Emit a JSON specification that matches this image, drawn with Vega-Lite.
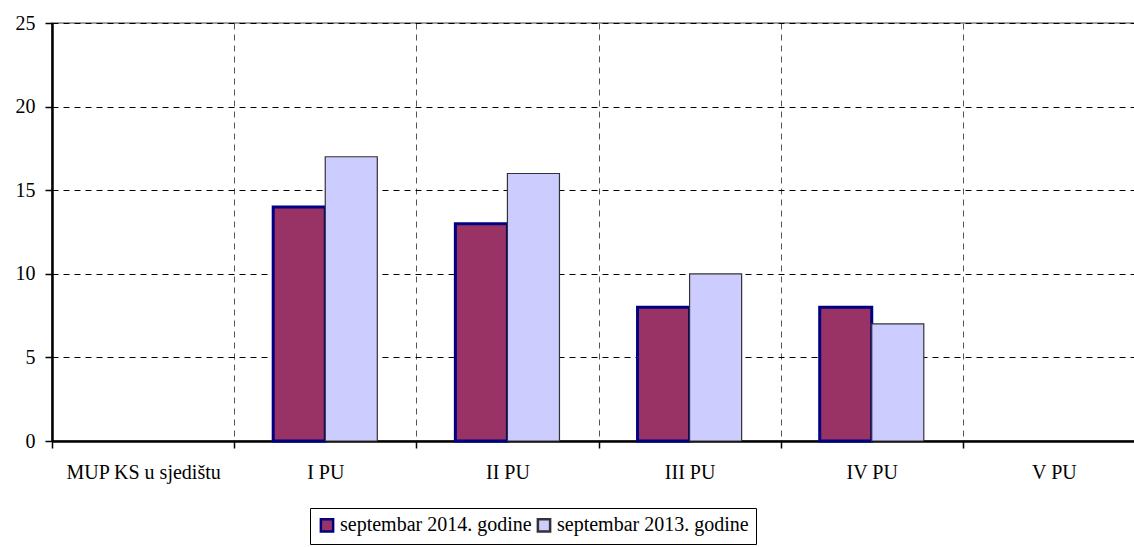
{
  "$schema": "https://vega.github.io/schema/vega-lite/v6.json",
  "width": 1093,
  "height": 418,
  "autosize": "none",
  "padding": {"left": 52, "top": 23, "right": 0, "bottom": 106},
  "background": "white",
  "config": {
    "font": "Liberation Serif",
    "view": {"stroke": "#808080", "strokeWidth": 1.5},
    "axis": {"labelFont": "Liberation Serif", "labelFontSize": 20, "labelColor": "black", "title": null, "labelLimit": 0}
  },
  "data": {
    "values": [
      {"unit": "MUP KS u sjedištu", "series": "septembar 2014. godine", "value": 0},
      {"unit": "MUP KS u sjedištu", "series": "septembar 2013. godine", "value": 0},
      {"unit": "I PU", "series": "septembar 2014. godine", "value": 14},
      {"unit": "I PU", "series": "septembar 2013. godine", "value": 17},
      {"unit": "II PU", "series": "septembar 2014. godine", "value": 13},
      {"unit": "II PU", "series": "septembar 2013. godine", "value": 16},
      {"unit": "III PU", "series": "septembar 2014. godine", "value": 8},
      {"unit": "III PU", "series": "septembar 2013. godine", "value": 10},
      {"unit": "IV PU", "series": "septembar 2014. godine", "value": 8},
      {"unit": "IV PU", "series": "septembar 2013. godine", "value": 7},
      {"unit": "V PU", "series": "septembar 2014. godine", "value": 0},
      {"unit": "V PU", "series": "septembar 2013. godine", "value": 0}
    ]
  },
  "transform": [{"filter": "datum.value > 0"}],
  "mark": {"type": "bar"},
  "encoding": {
    "x": {
      "field": "unit",
      "type": "nominal",
      "sort": null,
      "scale": {"domain": ["MUP KS u sjedištu", "I PU", "II PU", "III PU", "IV PU", "V PU"], "paddingInner": 0, "paddingOuter": 0},
      "axis": {
        "labelAngle": 0,
        "tickBand": "extent",
        "grid": true,
        "gridDash": [6, 5],
        "gridColor": "#555555",
        "gridWidth": 1,
        "domainColor": "black",
        "domainWidth": 2.5,
        "tickColor": "black",
        "tickWidth": 1.5,
        "tickSize": 7,
        "labelPadding": 14
      }
    },
    "xOffset": {
      "field": "series",
      "type": "nominal",
      "sort": ["septembar 2014. godine", "septembar 2013. godine"],
      "scale": {"paddingInner": 0, "paddingOuter": 0.75}
    },
    "y": {
      "field": "value",
      "type": "quantitative",
      "scale": {"domain": [0, 25]},
      "axis": {
        "values": [0, 5, 10, 15, 20, 25],
        "grid": true,
        "gridDash": [6, 5],
        "gridColor": "black",
        "gridWidth": 1,
        "domainColor": "black",
        "domainWidth": 2.5,
        "tickColor": "black",
        "tickWidth": 1.5,
        "tickSize": 7,
        "labelPadding": 10
      }
    },
    "fill": {
      "field": "series",
      "type": "nominal",
      "sort": ["septembar 2014. godine", "septembar 2013. godine"],
      "scale": {"domain": ["septembar 2014. godine", "septembar 2013. godine"], "range": ["#993366", "#CCCCFF"]},
      "legend": {
        "title": null,
        "orient": "none",
        "legendX": 258,
        "legendY": 485,
        "direction": "horizontal",
        "strokeColor": "black",
        "padding": 7,
        "labelFont": "Liberation Serif",
        "labelFontSize": 20,
        "labelLimit": 0,
        "labelColor": "black",
        "symbolType": "square",
        "symbolSize": 150,
        "symbolStrokeWidth": 2.5,
        "symbolOpacity": 1,
        "columnPadding": 0,
        "labelOffset": 3
      }
    },
    "stroke": {
      "field": "series",
      "type": "nominal",
      "sort": ["septembar 2014. godine", "septembar 2013. godine"],
      "scale": {"domain": ["septembar 2014. godine", "septembar 2013. godine"], "range": ["#000080", "#333333"]},
      "legend": {
        "title": null,
        "orient": "none",
        "legendX": 258,
        "legendY": 485,
        "direction": "horizontal",
        "strokeColor": "black",
        "padding": 7,
        "labelFont": "Liberation Serif",
        "labelFontSize": 20,
        "labelLimit": 0,
        "labelColor": "black",
        "symbolType": "square",
        "symbolSize": 150,
        "symbolStrokeWidth": 2.5,
        "symbolOpacity": 1,
        "columnPadding": 0,
        "labelOffset": 3
      }
    },
    "strokeWidth": {
      "condition": {"test": "datum.series === 'septembar 2014. godine'", "value": 3},
      "value": 1.2
    }
  }
}
